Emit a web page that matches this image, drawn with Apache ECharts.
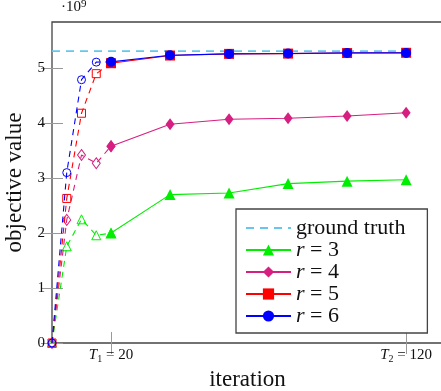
<!DOCTYPE html>
<html>
<head>
<meta charset="utf-8">
<script src="https://cdn.jsdelivr.net/npm/echarts@6/dist/echarts.min.js"></script>
<style>
  html, body { margin: 0; background: #fff; }
  #chart { width: 441px; height: 391px; }
</style>
</head>
<body>
<div id="chart"></div>
<script>
// objective value vs iteration, values in units of 1e9
const chart = echarts.init(document.getElementById('chart'));
const serif = 'Liberation Serif';

const iterEarly = [0, 5, 10, 15, 20];
const iterLate = [20, 40, 60, 80, 100, 120];
const r3Early = [0, 1.76, 2.25, 1.96, 2.0];
const r4Early = [0, 2.24, 3.42, 3.27, 3.58];
const r5Early = [0, 2.63, 4.18, 4.90, 5.09];
const r6Early = [0, 3.10, 4.79, 5.11, 5.115];
const r3Late = [2.0, 2.70, 2.73, 2.90, 2.945, 2.97];
const r4Late = [3.58, 3.98, 4.07, 4.09, 4.13, 4.19];
const r5Late = [5.09, 5.23, 5.26, 5.265, 5.275, 5.28];
const r6Late = [5.115, 5.236, 5.26, 5.267, 5.278, 5.278];
const groundTruthX = [0, 120];
const groundTruth = [5.31, 5.31];
const xTicks = [20, 120];
const xTickNames = ['{i|T}{sub|1} = 20', '{i|T}{sub|2} = 120'];
const yTicks = [0, 1, 2, 3, 4, 5];

const pairs = (xs, ys) => xs.map((x, i) => [x, ys[i]]);

const runs = [
  { name: 'r = 3', color: '#00ee00', symbol: 'triangle', size: 11, hollow: 9, early: r3Early, late: r3Late },
  { name: 'r = 4', color: '#d61f80', symbol: 'diamond', size: [9, 12], hollow: [8, 11], early: r4Early, late: r4Late },
  { name: 'r = 5', color: '#ff0000', symbol: 'rect', size: 10, hollow: 8, early: r5Early, late: r5Late },
  { name: 'r = 6', color: '#0000ff', symbol: 'circle', size: 10, hollow: 8, early: r6Early, late: r6Late }
];

const series = [
  {
    type: 'line',
    name: 'ground truth',
    data: pairs(groundTruthX, groundTruth),
    symbol: 'none',
    lineStyle: { color: '#66c7eb', width: 1.6, type: [8, 6] },
    itemStyle: { color: '#66c7eb' },
    z: 1
  }
];
runs.forEach((r, k) => {
  series.push({
    type: 'line',
    name: r.name + ' early',
    data: pairs(iterEarly, r.early),
    symbol: r.symbol,
    symbolSize: r.hollow,
    showAllSymbol: true,
    lineStyle: { color: r.color, width: 1.1, type: [6, 5] },
    itemStyle: { color: 'transparent', borderColor: r.color, borderWidth: 1 },
    z: 2 + k
  });
  series.push({
    type: 'line',
    name: r.name,
    data: pairs(iterLate, r.late),
    symbol: r.symbol,
    symbolSize: r.size,
    showAllSymbol: true,
    lineStyle: { color: r.color, width: 1.1 },
    itemStyle: { color: r.color },
    z: 6 + k
  });
});

const tickStyle = { show: true, inside: true, length: 11, lineStyle: { color: '#999', width: 1 } };

const option = {
  animation: false,
  backgroundColor: '#fff',
  grid: {
    left: 52, top: 22, width: 391, height: 321,
    outerBoundsMode: 'none', containLabel: false,
    show: true, borderColor: '#444', borderWidth: 1.3
  },
  legend: {
    data: [
      { name: 'ground truth', itemStyle: { opacity: 0 } },
      'r = 3', 'r = 4', 'r = 5', 'r = 6'
    ],
    orient: 'vertical',
    left: 236, top: 209,
    padding: [8, 22, 6, 9],
    itemWidth: 45, itemHeight: 14, itemGap: 0,
    backgroundColor: '#fff',
    borderColor: '#444', borderWidth: 1.3, borderRadius: 0,
    formatter: name => name.startsWith('r =') ? '{i|r} = ' + name.slice(4) : name,
    textStyle: {
      fontFamily: serif, fontSize: 22, lineHeight: 21, color: '#111',
      rich: { i: { fontFamily: serif, fontSize: 22, lineHeight: 21, fontStyle: 'italic' } }
    }
  },
  xAxis: [
    {
      type: 'value', min: 0, max: 132.5,
      name: 'iteration', nameLocation: 'middle', nameGap: 17,
      nameTextStyle: { fontFamily: serif, fontSize: 23, color: '#111' },
      axisLine: { show: false },
      splitLine: { show: false },
      axisTick: Object.assign({ customValues: xTicks }, tickStyle),
      axisLabel: {
        customValues: xTicks,
        margin: 3,
        fontFamily: serif, fontSize: 15, color: '#111',
        formatter: v => xTickNames[xTicks.indexOf(v)],
        rich: {
          i: { fontFamily: serif, fontSize: 15, fontStyle: 'italic' },
          sub: { fontFamily: serif, fontSize: 10, verticalAlign: 'bottom', padding: [8, 0, 0, 0] }
        }
      }
    },
    {
      type: 'value', min: 0, max: 132.5, position: 'top',
      axisLine: { show: false },
      splitLine: { show: false },
      axisTick: Object.assign({ customValues: xTicks }, tickStyle),
      axisLabel: { show: false }
    }
  ],
  yAxis: [
    {
      type: 'value', min: 0, max: 5.84,
      name: 'objective value', nameLocation: 'middle', nameGap: 25,
      nameTextStyle: { fontFamily: serif, fontSize: 23, color: '#111' },
      axisLine: { show: false },
      splitLine: { show: false },
      axisTick: Object.assign({ customValues: yTicks }, tickStyle),
      axisLabel: { customValues: yTicks, margin: 7, fontFamily: serif, fontSize: 15, color: '#111' }
    },
    {
      type: 'value', min: 0, max: 5.84, position: 'right',
      axisLine: { show: false },
      splitLine: { show: false },
      axisTick: Object.assign({ customValues: yTicks }, tickStyle),
      axisLabel: { show: false }
    }
  ],
  graphic: [
    {
      type: 'text', left: 61, top: -1,
      style: {
        text: '·10{s|9}',
        font: '15px "Liberation Serif"',
        fill: '#111',
        rich: { s: { font: '11px "Liberation Serif"', verticalAlign: 'top', padding: [0, 0, 6, 0] } }
      }
    }
  ],
  series: series
};
chart.setOption(option);
</script>
</body>
</html>
